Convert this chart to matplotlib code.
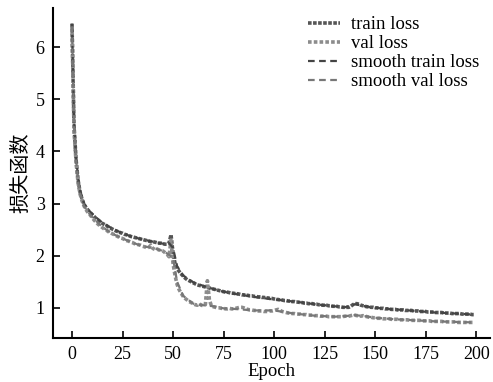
import matplotlib
matplotlib.use("Agg")
import matplotlib.pyplot as plt

plt.rcParams['font.family'] = ['Liberation Serif', 'Noto Sans CJK SC', 'DejaVu Sans']
plt.rcParams['font.size'] = 13.5

epochs = list(range(200))

train_loss = [
    6.45, 4.50, 3.85, 3.45, 3.22, 3.08, 2.98, 2.92, 2.87, 2.83,
    2.79, 2.75, 2.71, 2.68, 2.65, 2.62, 2.60, 2.58, 2.55, 2.53,
    2.51, 2.49, 2.47, 2.46, 2.44, 2.43, 2.41, 2.40, 2.39, 2.37,
    2.36, 2.35, 2.34, 2.33, 2.32, 2.31, 2.30, 2.29, 2.28, 2.27,
    2.27, 2.26, 2.25, 2.24, 2.24, 2.23, 2.22, 2.22, 2.24, 2.40,
    2.05, 1.85, 1.76, 1.70, 1.65, 1.61, 1.57, 1.54, 1.52, 1.50,
    1.48, 1.46, 1.44, 1.43, 1.42, 1.41, 1.40, 1.39, 1.38, 1.37,
    1.36, 1.35, 1.34, 1.33, 1.32, 1.31, 1.30, 1.30, 1.29, 1.28,
    1.28, 1.27, 1.27, 1.26, 1.25, 1.25, 1.24, 1.24, 1.23, 1.23,
    1.22, 1.22, 1.21, 1.21, 1.20, 1.20, 1.19, 1.19, 1.18, 1.18,
    1.17, 1.16, 1.16, 1.15, 1.15, 1.14, 1.14, 1.13, 1.13, 1.12,
    1.12, 1.11, 1.11, 1.10, 1.10, 1.09, 1.09, 1.08, 1.08, 1.08,
    1.07, 1.07, 1.06, 1.06, 1.05, 1.05, 1.05, 1.04, 1.04, 1.03,
    1.03, 1.03, 1.02, 1.02, 1.01, 1.01, 1.01, 1.01, 1.03, 1.06,
    1.08, 1.08, 1.07, 1.05, 1.04, 1.03, 1.02, 1.02, 1.01, 1.01,
    1.00, 1.00, 0.99, 0.99, 0.99, 0.98, 0.98, 0.98, 0.97, 0.97,
    0.97, 0.96, 0.96, 0.96, 0.96, 0.95, 0.95, 0.95, 0.95, 0.94,
    0.94, 0.94, 0.93, 0.93, 0.93, 0.93, 0.92, 0.92, 0.92, 0.92,
    0.91, 0.91, 0.91, 0.91, 0.90, 0.90, 0.90, 0.90, 0.89, 0.89,
    0.89, 0.89, 0.89, 0.88, 0.88, 0.88, 0.88, 0.88, 0.87, 0.87,
]

val_loss = [
    6.40, 4.40, 3.80, 3.40, 3.18, 3.05, 2.95, 2.88, 2.82, 2.78,
    2.73, 2.68, 2.64, 2.60, 2.57, 2.54, 2.51, 2.49, 2.46, 2.44,
    2.42, 2.40, 2.38, 2.36, 2.34, 2.33, 2.31, 2.29, 2.28, 2.26,
    2.25, 2.23, 2.22, 2.21, 2.20, 2.18, 2.17, 2.15, 2.16, 2.20,
    2.14, 2.12, 2.13, 2.11, 2.10, 2.09, 2.06, 2.03, 1.98, 2.30,
    1.85, 1.62, 1.45, 1.35, 1.28, 1.22, 1.18, 1.15, 1.12, 1.10,
    1.08, 1.06, 1.05, 1.08, 1.05, 1.04, 1.06, 1.52, 1.15, 1.04,
    1.02, 1.01, 1.00, 1.00, 0.99, 0.99, 0.98, 0.98, 0.99, 0.98,
    0.98, 0.99, 1.00, 1.01, 1.01, 1.00, 0.98, 0.97, 0.96, 0.96,
    0.95, 0.95, 0.94, 0.94, 0.94, 0.93, 0.93, 0.93, 0.94, 0.94,
    0.95, 0.96, 0.97, 0.95, 0.93, 0.92, 0.91, 0.90, 0.90, 0.89,
    0.89, 0.88, 0.88, 0.88, 0.87, 0.87, 0.87, 0.86, 0.86, 0.86,
    0.85, 0.85, 0.85, 0.84, 0.84, 0.84, 0.84, 0.83, 0.83, 0.83,
    0.83, 0.83, 0.83, 0.83, 0.83, 0.84, 0.84, 0.84, 0.85, 0.86,
    0.86, 0.85, 0.85, 0.84, 0.85, 0.84, 0.83, 0.82, 0.82, 0.81,
    0.81, 0.80, 0.80, 0.80, 0.79, 0.79, 0.79, 0.79, 0.78, 0.78,
    0.78, 0.78, 0.77, 0.77, 0.77, 0.77, 0.77, 0.76, 0.76, 0.76,
    0.76, 0.76, 0.76, 0.75, 0.75, 0.75, 0.75, 0.75, 0.74, 0.74,
    0.74, 0.74, 0.74, 0.74, 0.73, 0.73, 0.73, 0.73, 0.73, 0.73,
    0.73, 0.72, 0.72, 0.72, 0.72, 0.72, 0.72, 0.72, 0.72, 0.72,
]

smooth_epochs = [0, 1, 2, 3, 4, 6, 8, 10, 15, 20, 25, 30, 35, 40, 45, 48,
                 50, 52, 55, 60, 65, 70, 75, 80, 90, 100, 110, 120, 130, 135,
                 140, 145, 150, 160, 170, 180, 190, 199]
smooth_train = [6.45, 4.60, 3.90, 3.50, 3.25, 3.00, 2.88, 2.80, 2.63, 2.52,
                2.43, 2.36, 2.31, 2.27, 2.23, 2.24, 2.15, 1.80, 1.62, 1.49,
                1.42, 1.36, 1.31, 1.27, 1.21, 1.16, 1.12, 1.07, 1.03, 1.01,
                1.07, 1.03, 1.00, 0.97, 0.94, 0.91, 0.89, 0.87]
smooth_val = [6.40, 4.50, 3.85, 3.45, 3.20, 2.95, 2.83, 2.74, 2.55, 2.42,
              2.33, 2.25, 2.18, 2.15, 2.09, 2.02, 1.95, 1.50, 1.23, 1.08,
              1.05, 1.03, 0.99, 0.98, 0.95, 0.95, 0.89, 0.85, 0.83, 0.84,
              0.86, 0.84, 0.81, 0.78, 0.76, 0.74, 0.73, 0.72]

fig = plt.figure(figsize=(4.93, 3.82), dpi=100)
ax = fig.add_axes([0.1075, 0.115, 0.887, 0.864])

ax.plot(epochs, train_loss, color='#555555', lw=2.6, ls=(0, (1, 0.4)), label='train loss')
ax.plot(epochs, val_loss, color='#8c8c8c', lw=2.6, ls=(0, (1, 0.6)), label='val loss')
ax.plot(smooth_epochs, smooth_train, color='#444444', lw=1.6, ls=(0, (3, 2)), label='smooth train loss')
ax.plot(smooth_epochs, smooth_val, color='#777777', lw=1.6, ls=(0, (3, 2)), label='smooth val loss')

ax.set_xlim(-9.4, 207)
ax.set_ylim(0.42, 6.75)
ax.set_xticks([0, 25, 50, 75, 100, 125, 150, 175, 200])
ax.set_yticks([1, 2, 3, 4, 5, 6])
ax.spines['top'].set_visible(False)
ax.spines['right'].set_visible(False)
ax.spines['left'].set_linewidth(1.5)
ax.spines['bottom'].set_linewidth(1.5)
ax.tick_params(direction='in', length=5, width=1.2, pad=6, labelsize=13)
ax.set_xlabel('Epoch', labelpad=0)
ax.set_ylabel('损失函数', family=['Noto Sans CJK SC', 'DejaVu Sans'], fontsize=14.5, labelpad=3)

leg = ax.legend(loc='upper right', frameon=False, handlelength=1.7, handletextpad=0.6,
                labelspacing=0.1, borderaxespad=0.2, bbox_to_anchor=(1.0, 1.01))

fig.savefig('out.png', dpi=100)
